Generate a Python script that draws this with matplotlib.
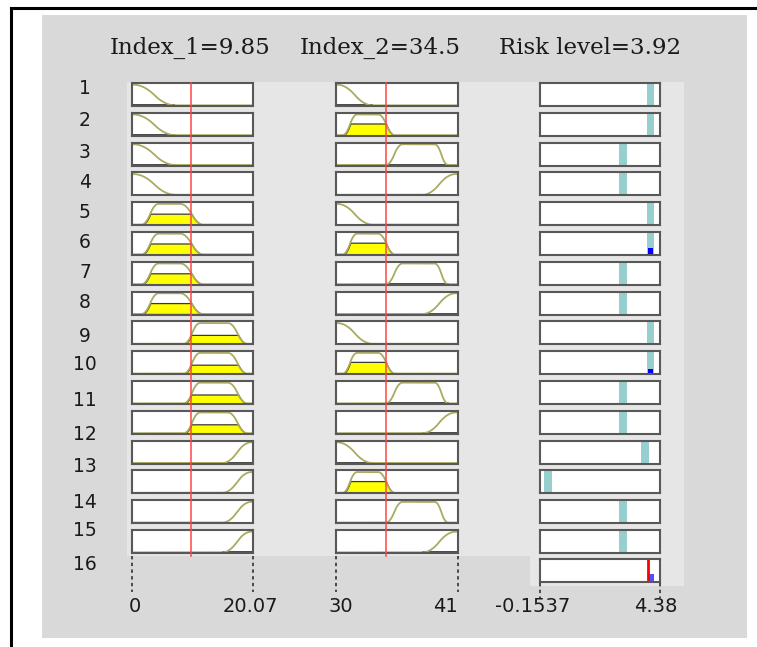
import numpy as np
import matplotlib
matplotlib.use("Agg")
import matplotlib.pyplot as plt
from matplotlib.patches import Rectangle

W, H = 757, 647

# inputs / output shown in the header
in_names = ["Index_1", "Index_2"]
in_values = [9.85, 34.5]
in_ranges = [(0.0, 20.07), (30.0, 41.0)]
out_name = "Risk level"
out_value = 3.92
out_range = (-0.1537, 4.38)
tick_labels = [("0", "20.07"), ("30", "41"), ("-0.1537", "4.38")]

# membership functions: (type, params)
mfs_1 = [("z", (0.2, 7.2)),
         ("pi", (1.6, 4.4, 8.0, 11.8)),
         ("pi", (8.6, 11.3, 15.9, 19.1)),
         ("s", (15.0, 19.8))]
mfs_2 = [("z", (30.1, 33.3)),
         ("pi", (30.6, 31.9, 33.8, 35.3)),
         ("pi", (34.5, 36.0, 38.9, 40.1)),
         ("s", (37.8, 40.8))]

# rule base: antecedent MF index per input and constant consequent
rule_in1 = [0, 0, 0, 0, 1, 1, 1, 1, 2, 2, 2, 2, 3, 3, 3, 3]
rule_in2 = [0, 1, 2, 3, 0, 1, 2, 3, 0, 1, 2, 3, 0, 1, 2, 3]
rule_out = [4.03, 4.03, 2.98, 2.98, 4.03, 4.03, 2.98, 2.98,
            4.03, 4.03, 2.98, 2.98, 3.81, 0.15, 2.98, 2.98]

# aggregated output bars
agg_pos = [4.03, 2.98]
agg_height = [0.35, 0.04]

# row label vertical positions (px)
label_y = [88, 120, 153, 182, 213, 243, 272, 303, 337, 365, 400, 434, 466, 502, 530, 565]


def smf(x, a, b):
    m = (a + b) / 2
    y = np.zeros_like(x)
    t1 = (x > a) & (x <= m)
    t2 = (x > m) & (x < b)
    y[t1] = 2 * ((x[t1] - a) / (b - a)) ** 2
    y[t2] = 1 - 2 * ((x[t2] - b) / (b - a)) ** 2
    y[x >= b] = 1
    return y


def mf_eval(mf, x):
    kind, p = mf
    x = np.atleast_1d(np.asarray(x, dtype=float))
    if kind == "s":
        return smf(x, *p)
    if kind == "z":
        return 1 - smf(x, *p)
    return smf(x, p[0], p[1]) * (1 - smf(x, p[2], p[3]))


fig = plt.figure(figsize=(W / 100, H / 100), dpi=100)
fig.patch.set_facecolor("white")


def px_axes(x0, y0, w, h):
    return fig.add_axes([x0 / W, 1 - (y0 + h) / H, w / W, h / H])


# background panels
bg = px_axes(0, 0, W, H)
bg.set_xlim(0, W)
bg.set_ylim(H, 0)
bg.axis("off")
bg.add_patch(Rectangle((42, 15), 705, 623, color="#d9d9d9", lw=0))
bg.add_patch(Rectangle((127, 82), 557, 474, color="#e6e6e6", lw=0))
bg.add_patch(Rectangle((530, 556), 154, 30, color="#e6e6e6", lw=0))
bg.plot([11, 11], [8, H], color="black", lw=2.2)
bg.plot([11, W], [8, 8], color="black", lw=2.2)

title_x = [190, 380, 590]
titles = [f"{in_names[0]}={in_values[0]:g}", f"{in_names[1]}={in_values[1]:g}",
          f"{out_name}={out_value:g}"]
for tx, t in zip(title_x, titles):
    bg.text(tx, 48, t, ha="center", va="center", fontsize=16.5,
            family="DejaVu Serif", color="#1a1a1a")
for i, ly in enumerate(label_y):
    bg.text(85, ly, str(i + 1), ha="center", va="center", fontsize=13.5,
            family="DejaVu Sans", color="#1a1a1a")

col_x = [(132, 121), (336, 122), (540, 120)]
row_top0, row_step, row_h = 83, 29.8, 23
curve_col = "#aaaa62"
teal = "#97cfcf"

firing = []
for r in range(16):
    m1 = mf_eval(mfs_1[rule_in1[r]], in_values[0])[0]
    m2 = mf_eval(mfs_2[rule_in2[r]], in_values[1])[0]
    firing.append((m1, m2, m1 * m2))


def style_box(ax, lo, hi):
    ax.set_xlim(lo, hi)
    ax.set_ylim(-0.03, 1.08)
    ax.set_xticks([])
    ax.set_yticks([])
    ax.set_facecolor("white")
    for s in ax.spines.values():
        s.set_color("#585858")
        s.set_linewidth(1.5)


for r in range(16):
    y0 = row_top0 + r * row_step
    # input columns
    for c, (mfs, idx) in enumerate([(mfs_1, rule_in1), (mfs_2, rule_in2)]):
        lo, hi = in_ranges[c]
        ax = px_axes(col_x[c][0], y0, col_x[c][1], row_h)
        style_box(ax, lo, hi)
        xs = np.linspace(lo, hi, 400)
        ys = mf_eval(mfs[idx[r]], xs)
        level = firing[r][c]
        if level > 0:
            ax.fill_between(xs, 0, np.minimum(ys, level), where=ys > 0,
                            facecolor="#ffff00", edgecolor="#3a3a3a", lw=0.9)
        else:
            on = ys > 1e-3
            if on.any():
                ax.plot(xs[on], np.zeros(on.sum()), color="#2a2a2a", lw=1.2)
        ax.plot(xs, ys, color=curve_col, lw=1.3)
    # output column
    ax = px_axes(col_x[2][0], y0, col_x[2][1], row_h)
    style_box(ax, *out_range)
    ax.set_ylim(0, 1)
    ax.bar(rule_out[r], 1, width=0.28, color=teal, lw=0)
    if firing[r][2] > 0:
        ax.bar(rule_out[r], firing[r][2], width=0.2, color="#0000ff", lw=0)

# aggregated output row
ax = px_axes(col_x[2][0], row_top0 + 16 * row_step - 1, col_x[2][1], row_h)
style_box(ax, *out_range)
ax.set_ylim(0, 1)
ax.bar(agg_pos, agg_height, width=0.22, color="#5050ff", lw=0)
ax.axvline(out_value, color="#ff0000", lw=2)

# input cursors, range markers and tick labels
spans = [(556, 592), (556, 592), (583, 598)]
ranges = [in_ranges[0], in_ranges[1], out_range]
tick_x = [(135, 250), (341, 445), (533, 656)]
for c in range(3):
    ov = px_axes(col_x[c][0] - 10, 0, col_x[c][1] + 20, H)
    lo, hi = ranges[c]
    pad = (hi - lo) * 10 / col_x[c][1]
    ov.set_xlim(lo - pad, hi + pad)
    ov.set_ylim(H, 0)
    ov.axis("off")
    ov.patch.set_visible(False)
    if c < 2:
        ov.plot([in_values[c]] * 2, [row_top0, 556], color="#ff4545", lw=1.1)
    for v in (lo, hi):
        ov.plot([v, v], spans[c], color="#222222", lw=1.1, ls=(0, (2.2, 2.2)))
    for t, tx in zip(tick_labels[c], tick_x[c]):
        bg.text(tx, 607, t, ha="center", va="center", fontsize=14,
                family="DejaVu Sans", color="#1a1a1a")

fig.savefig("out.png", dpi=100)
